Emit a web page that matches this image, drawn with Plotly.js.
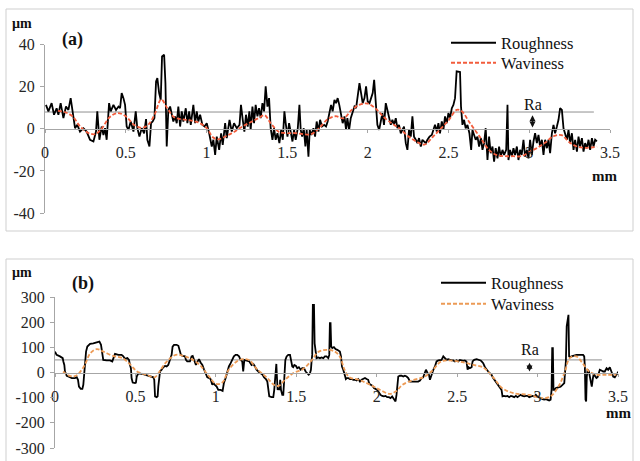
<!DOCTYPE html>
<html>
<head>
<meta charset="utf-8">
<script src="https://cdn.plot.ly/plotly-3.0.1.min.js"></script>
<style>html,body{margin:0;padding:0;background:#fff}#chart{width:640px;height:461px}</style>
</head>
<body>
<div id="chart"></div>
<script>
// ---------- Panel (a) data ----------
const aRoughX = [0.006,0.021,0.041,0.056,0.072,0.083,0.097,0.114,0.130,0.145,0.159,0.169,0.186,0.200,0.217,0.238,0.258,0.279,0.300,0.316,0.324,0.337,0.351,0.362,0.372,0.382,0.397,0.407,0.424,0.440,0.455,0.465,0.475,0.486,0.496,0.506,0.517,0.531,0.548,0.562,0.572,0.585,0.599,0.614,0.626,0.634,0.647,0.657,0.667,0.678,0.688,0.696,0.707,0.717,0.725,0.738,0.746,0.754,0.764,0.775,0.785,0.795,0.806,0.816,0.826,0.837,0.847,0.857,0.872,0.882,0.893,0.903,0.919,0.930,0.940,0.950,0.961,0.975,0.988,1.002,1.017,1.033,1.043,1.054,1.064,1.079,1.091,1.101,1.116,1.126,1.143,1.157,1.171,1.188,1.205,
1.214,1.225,1.235,1.245,1.256,1.266,1.274,1.285,1.295,1.305,1.316,1.326,1.336,1.347,1.357,1.367,1.378,1.388,1.398,1.409,1.419,1.429,1.440,1.452,1.463,1.473,1.483,1.491,1.502,1.512,1.522,1.533,1.543,1.553,1.566,1.576,1.584,1.593,1.603,1.613,1.621,1.632,1.640,1.650,1.663,1.673,1.683,1.694,1.704,1.716,1.729,1.741,1.751,1.762,1.772,1.782,1.793,1.803,1.813,1.823,1.834,1.844,1.855,1.865,1.873,1.884,1.894,1.906,1.917,1.927,1.937,1.948,1.958,1.968,1.979,1.989,1.999,2.010,2.020,2.030,2.039,2.049,2.059,2.070,2.080,2.090,2.100,2.111,2.121,2.131,2.142,2.152,2.162,2.173,2.183,2.193,2.204,2.214,2.224,2.235,2.245,2.255,2.266,2.276,2.286,2.297,2.307,2.317,2.328,2.338,2.348,2.359,2.369,2.382,
2.396,2.406,2.416,2.427,2.437,2.447,2.458,2.468,2.478,2.489,2.499,2.509,2.520,2.530,2.540,2.550,2.561,2.571,2.577,2.586,2.596,2.606,2.617,2.629,2.640,2.648,2.658,2.668,2.679,2.689,2.700,2.710,2.720,2.730,2.741,2.751,2.761,2.772,2.782,2.792,2.803,2.813,2.823,2.834,2.844,2.857,2.865,2.871,2.881,2.892,2.902,2.912,2.923,2.933,2.943,2.953,2.964,2.974,2.985,2.995,3.005,3.016,3.026,3.036,3.047,3.057,3.067,3.078,3.088,3.098,3.109,3.119,3.129,3.140,3.150,3.160,3.171,3.181,3.191,3.202,3.212,3.222,3.233,3.243,3.253,3.264,3.274,3.284,3.295,3.305,3.315,3.326,3.336,3.346,3.357,3.367,3.377,3.388,3.398,3.408,3.419];
const aRoughY = [11.4,8.3,12.2,6.7,9.8,6.7,12.2,5.1,10.6,9.0,14.6,9.0,0.3,1.9,-1.3,0.3,-1.3,-5.2,-6.0,-1.3,8.3,-5.2,1.1,-2.9,0.3,-5.2,12.2,8.3,11.4,9.0,10.6,9.8,17.0,14.6,11.4,1.1,-0.5,3.5,-1.3,8.3,0.3,-3.7,0.3,-2.1,4.6,-5.2,-8.4,2.7,3.5,5.1,22.5,24.1,17.0,13.8,34.4,35.2,21.7,-8.4,9.0,10.6,7.5,3.5,5.9,2.7,10.6,1.1,8.3,3.5,9.8,2.7,8.3,1.9,11.4,2.7,8.3,3.5,6.7,1.9,1.1,2.7,-2.1,-8.4,-5.2,-12.4,-3.7,-10.0,-2.1,-7.6,2.7,-4.4,4.3,-1.3,2.7,0.3,1.9,
11.4,4.3,-1.3,6.7,1.1,8.3,-0.5,10.6,2.7,11.4,5.9,9.8,5.1,12.2,8.3,20.2,10.6,14.6,0.3,-5.2,0.3,-5.2,-2.1,-6.8,-0.5,-5.2,8.3,2.7,-3.7,2.7,-1.3,-6.0,-0.5,-5.2,0.3,11.4,-0.5,-3.7,0.3,-8.4,-0.5,-13.2,-0.5,-2.9,0.3,-3.7,3.5,-1.3,4.3,1.1,1.9,1.1,3.5,7.5,11.4,8.3,13.8,12.2,14.6,11.4,7.5,2.7,5.9,-0.5,5.1,-0.5,5.1,8.3,10.6,9.8,17.0,21.7,17.0,12.2,14.6,20.2,13.0,12.2,14.6,17.0,23.3,10.6,1.9,-0.5,4.3,7.5,1.9,12.2,9.0,5.1,1.9,4.3,1.9,5.1,0.3,1.9,-2.1,-0.5,1.1,-6.8,-10.0,-0.5,-3.7,5.9,-3.7,-5.2,-6.8,-4.4,-8.4,-5.2,-6.0,-6.8,-5.2,-3.7,
-2.9,-0.5,1.9,-1.3,2.7,-2.1,3.5,-0.5,5.9,2.7,7.5,5.1,9.8,11.4,14.6,27.3,27.3,27.0,10.6,1.9,4.3,0.3,1.9,-2.1,-10.0,-0.5,-2.9,-5.2,-3.7,-8.4,-4.4,-10.0,-6.8,0.3,-14.8,-3.7,-11.6,-8.4,-15.6,-9.2,-14.0,-8.4,-13.2,-10.0,-12.4,-10.0,11.4,-14.8,-10.0,-13.2,-9.2,-12.4,-8.4,-14.8,-10.0,-12.4,-5.2,-13.2,-10.0,-14.0,-5.2,-12.4,-6.0,-2.1,-6.8,-2.9,-8.4,-5.2,-12.4,-5.2,-9.2,-5.2,-11.6,-2.1,1.9,-2.1,1.1,4.3,9.8,9.0,0.3,-2.9,-5.2,-0.5,-6.8,-2.1,-10.0,-5.2,-10.8,-3.7,-8.4,-4.4,-10.8,-6.8,-9.2,-5.2,-10.0,-4.4,-8.4,-5.2,-6.0];
const aWaveX = [0.08,0.12,0.17,0.22,0.27,0.31,0.35,0.40,0.45,0.50,0.55,0.60,0.64,0.68,0.72,0.76,0.80,0.85,0.90,0.95,1.00,1.04,1.07,1.12,1.17,1.22,1.27,1.32,1.36,1.40,1.45,1.50,1.55,1.60,1.65,1.70,1.75,1.80,1.85,1.90,1.95,2.00,2.05,2.10,2.15,2.20,2.25,2.30,2.35,2.40,2.45,2.50,2.55,2.58,2.63,2.70,2.75,2.80,2.85,2.90,2.95,3.00,3.05,3.10,3.15,3.20,3.25,3.30,3.35,3.42];
const aWaveY = [8.5,8.0,6.0,1.0,-2.0,-2.5,0.0,5.5,7.5,6.0,2.0,0.5,2.0,7.0,14.0,9.5,5.5,4.5,4.0,3.0,0.5,-4.0,-5.0,-3.5,-1.5,1.0,3.0,5.0,6.5,2.5,-1.5,-2.0,-2.0,-2.5,-2.5,0.5,4.5,6.0,5.0,9.0,11.5,12.0,9.5,5.5,2.5,0.0,-3.5,-6.0,-7.5,-4.0,0.0,4.0,9.0,8.5,3.0,-4.5,-10.0,-12.5,-13.0,-13.0,-13.0,-11.0,-9.0,-6.5,-3.5,-3.0,-6.5,-8.5,-9.0,-8.5];
const raA = 8;

// ---------- Panel (b) data ----------
const bRoughX = [0.000,0.010,0.031,0.048,0.052,0.058,0.062,0.073,0.093,0.104,0.124,0.135,0.143,0.149,0.160,0.170,0.176,0.182,0.186,0.193,0.201,0.218,0.238,0.259,0.276,0.286,0.294,0.300,0.321,0.342,0.356,0.363,0.373,0.394,0.414,0.425,0.435,0.450,0.460,0.466,0.472,0.476,0.483,0.497,0.503,0.508,0.518,0.539,0.559,0.570,0.590,0.601,0.611,0.617,0.622,0.632,0.638,0.642,0.648,0.653,0.663,0.673,0.684,0.694,0.704,0.715,0.725,0.731,0.740,0.756,0.767,0.777,0.783,0.793,0.808,0.814,0.822,0.839,0.849,0.856,0.864,0.876,0.887,0.895,0.905,0.916,0.926,0.938,0.947,0.957,0.967,0.978,0.984,0.994,1.005,1.015,1.030,1.042,1.050,1.061,1.071,1.081,1.092,1.102,1.112,1.123,1.133,1.144,1.154,1.164,1.170,1.177,1.191,1.208,
1.222,1.233,1.243,1.253,1.264,1.278,1.291,1.299,1.311,1.320,1.328,1.332,1.347,1.357,1.363,1.367,1.371,1.376,1.380,1.384,1.390,1.396,1.400,1.405,1.413,1.419,1.425,1.432,1.440,1.450,1.461,1.467,1.475,1.481,1.488,1.498,1.506,1.516,1.527,1.537,1.548,1.558,1.568,1.577,1.585,1.591,1.595,1.599,1.603,1.610,1.614,1.620,1.626,1.637,1.647,1.657,1.668,1.678,1.688,1.699,1.705,1.709,1.713,1.717,1.724,1.734,1.744,1.755,1.765,1.771,1.778,1.784,1.792,1.798,1.804,1.808,1.815,1.823,1.833,1.844,1.854,1.865,1.875,1.885,1.896,1.906,1.916,1.927,1.937,1.947,1.954,1.964,1.974,1.983,1.993,2.003,2.014,2.024,2.034,2.045,2.055,2.065,2.076,2.086,2.096,2.107,2.117,2.123,2.128,2.134,2.144,2.155,2.165,2.175,2.186,2.196,2.207,2.217,2.227,2.237,2.248,2.258,2.269,2.279,2.289,2.300,2.306,2.314,2.325,2.331,2.337,2.345,2.352,2.362,2.372,2.383,2.393,
2.403,2.414,2.424,2.434,2.445,2.455,2.465,2.476,2.486,2.496,2.507,2.517,2.538,2.548,2.558,2.565,2.571,2.579,2.590,2.596,2.606,2.621,2.637,2.646,2.652,2.662,2.673,2.683,2.693,2.703,2.714,2.724,2.735,2.745,2.755,2.766,2.776,2.782,2.791,2.803,2.813,2.824,2.834,2.844,2.855,2.865,2.875,2.886,2.894,2.907,2.917,2.927,2.938,2.948,2.958,2.968,2.979,2.989,2.997,3.010,3.020,3.031,3.041,3.052,3.062,3.072,3.081,3.087,3.091,3.095,3.099,3.105,3.114,3.128,3.143,3.155,3.166,3.172,3.176,3.181,3.188,3.192,3.196,3.201,3.211,3.221,3.232,3.242,3.263,3.283,3.290,3.294,3.298,3.302,3.306,3.311,3.319,3.325,3.331,3.337,3.344,3.350,3.356,3.366,3.373,3.381,3.387,3.397,3.408,3.418,3.429,3.439,3.449,3.459,3.470,3.480,3.491,3.501,3.511];
const bRoughY = [83,70,64,57,44,30,4,-13,-19,-22,-22,-19,-29,-56,-65,-65,-49,-9,30,83,103,114,116,119,123,110,64,50,48,48,44,57,74,70,70,64,54,57,50,30,17,-22,-40,-42,-40,-16,-3,-5,-9,-13,-16,-19,-19,-29,-95,-98,-95,-56,-9,4,11,21,26,24,30,50,70,103,110,110,106,83,70,66,64,50,44,44,64,66,50,30,44,53,40,30,13,-9,-19,-22,-26,-49,-42,-49,-56,-69,-69,-73,-42,-22,4,24,37,53,64,70,70,64,50,44,4,50,48,44,
30,34,24,11,4,-3,-9,-19,-26,-36,-69,-95,-98,-98,-69,-29,-9,34,-22,-69,-62,-69,-29,-69,-89,-89,-29,50,64,70,70,50,24,21,30,26,17,21,11,17,17,4,-3,-9,-3,11,44,70,269,269,116,70,57,60,57,60,57,64,64,57,70,196,196,103,97,101,93,90,83,83,64,24,11,-9,-16,-26,-22,-22,-26,-26,-29,-29,-32,-26,-36,-29,-26,-22,-26,-29,-45,-49,-53,-62,-66,-69,-79,-89,-93,-95,-93,-98,-98,-102,-95,-108,-115,-89,-42,-16,-13,-13,-16,-13,-16,-22,-36,-36,-36,-36,-36,-36,-32,-22,-19,-3,11,0,-9,-29,-16,4,11,24,44,48,50,
50,64,57,50,53,50,48,48,44,48,44,50,46,48,44,11,21,17,21,44,50,53,50,48,44,37,21,11,4,-3,-9,-22,-32,-42,-49,-56,-69,-95,-93,-95,-93,-98,-93,-95,-98,-93,-98,-93,-89,-93,-95,-93,-93,-98,-95,-93,-95,-89,-95,-98,-102,-106,-108,-106,-108,-111,-108,-69,97,97,-69,-69,-62,-58,-56,-49,-42,11,44,183,229,229,64,61,64,66,70,70,70,70,64,24,-108,-115,-16,11,4,-19,-49,-56,-22,-3,-13,-22,-19,0,11,8,4,4,17,11,21,4,-16,-19,-9,4,11];
const bWaveX = [0.05,0.09,0.13,0.18,0.22,0.26,0.30,0.36,0.42,0.47,0.51,0.57,0.62,0.65,0.69,0.75,0.80,0.85,0.90,0.95,1.00,1.04,1.08,1.13,1.17,1.21,1.25,1.32,1.36,1.39,1.43,1.48,1.54,1.59,1.64,1.69,1.74,1.77,1.80,1.83,1.89,1.96,2.02,2.08,2.12,2.16,2.23,2.29,2.34,2.40,2.45,2.54,2.60,2.66,2.72,2.78,2.85,2.95,3.03,3.08,3.13,3.17,3.20,3.24,3.28,3.32,3.37,3.43,3.49];
const bWaveY = [4,-13,-13,24,77,93,83,66,57,30,4,-9,-19,4,40,70,66,53,30,-9,-45,-40,11,44,53,48,17,-22,-49,-53,-29,-3,13,44,83,90,83,64,11,-19,-29,-49,-69,-85,-75,-49,-29,-19,4,44,48,40,30,21,-16,-62,-82,-89,-102,-95,-56,4,57,64,37,4,-9,-9,-9];
const raB = 50;

// ---------- Axis ticks ----------
const xTickVals = [0,0.5,1,1.5,2,2.5,3,3.5];
const xTickText = ['0','0.5','1','1.5','2','2.5','3','3.5'];
const aYTickVals = [-40,-20,0,20,40];
const aYTickText = ['-40','-20','0','20','40'];
const bYTickVals = [-300,-200,-100,0,100,200,300];
const bYTickText = ['-300','-200','-100','0','100','200','300'];

const W = 640, H = 461;
const px = v => v / W;
const py = v => 1 - v / H;
const serif = 'Liberation Serif';
const axisGray = '#a6a6a6';
const tickFont = {family: serif, size: 16, color: '#262626'};
const legFont = {family: serif, size: 16.5, color: '#111'};

const traces = [
  {x: aRoughX, y: aRoughY, type: 'scatter', mode: 'lines', name: 'Roughness',
   line: {color: '#000000', width: 1.8}, xaxis: 'x', yaxis: 'y', legend: 'legend'},
  {x: aWaveX, y: aWaveY, type: 'scatter', mode: 'lines', name: 'Waviness',
   line: {color: '#f25c3c', width: 1.8, dash: '4px,2px', shape: 'spline'}, xaxis: 'x', yaxis: 'y', legend: 'legend2'},
  {x: bRoughX, y: bRoughY, type: 'scatter', mode: 'lines', name: 'Roughness',
   line: {color: '#000000', width: 1.8}, xaxis: 'x2', yaxis: 'y2', legend: 'legend3'},
  {x: bWaveX, y: bWaveY, type: 'scatter', mode: 'lines', name: 'Waviness',
   line: {color: '#ec9a55', width: 1.8, dash: '4px,2px', shape: 'spline'}, xaxis: 'x2', yaxis: 'y2', legend: 'legend4'}
];

function xAxis(domain, pos) {
  return {domain: domain, range: [0, 3.5], anchor: 'free', position: pos,
    tickvals: xTickVals, ticktext: xTickText, ticks: 'outside', ticklen: 3, tickcolor: axisGray,
    showline: true, linecolor: axisGray, linewidth: 1, showgrid: false, zeroline: false,
    tickfont: tickFont, ticklabelstandoff: 6, fixedrange: true};
}
function yAxis(domain, range, vals, text, anchorX) {
  return {domain: domain, range: range, anchor: anchorX, tickvals: vals, ticktext: text,
    ticks: 'outside', ticklen: 4, tickcolor: axisGray, showline: true, linecolor: axisGray, linewidth: 1,
    showgrid: false, zeroline: false, tickfont: tickFont, ticklabelstandoff: 2, fixedrange: true};
}
function leg(x, y) {
  return {x: px(x), y: py(y), xanchor: 'left', yanchor: 'middle', bgcolor: 'rgba(0,0,0,0)',
    font: legFont, itemwidth: 45, borderwidth: 0};
}
function label(x, y, text, size) {
  return {xref: 'paper', yref: 'paper', x: px(x), y: py(y), xanchor: 'center', yanchor: 'middle',
    text: text, showarrow: false, font: {family: serif, size: size, color: '#111'}};
}

const layout = {
  width: W, height: H,
  margin: {l: 0, r: 0, t: 0, b: 0},
  paper_bgcolor: '#ffffff', plot_bgcolor: 'rgba(0,0,0,0)',
  showlegend: true,
  xaxis: xAxis([px(45), px(610)], py(129)),
  yaxis: yAxis([py(213), py(44.7)], [-40, 40], aYTickVals, aYTickText, 'x'),
  xaxis2: xAxis([px(55), px(618)], py(373)),
  yaxis2: yAxis([py(448), py(297)], [-300, 300], bYTickVals, bYTickText, 'x2'),
  legend: leg(446, 43),
  legend2: leg(446, 63),
  legend3: leg(436, 283),
  legend4: leg(436, 304),
  shapes: [
    {type: 'rect', xref: 'paper', yref: 'paper', x0: px(6), x1: px(633), y0: py(231), y1: py(9),
     line: {color: '#cfcfcf', width: 1}, layer: 'below'},
    {type: 'rect', xref: 'paper', yref: 'paper', x0: px(6), x1: px(633), y0: py(470), y1: py(259),
     line: {color: '#cfcfcf', width: 1}, layer: 'below'},
    {type: 'line', xref: 'x', yref: 'y', x0: 0, x1: 3.4, y0: raA, y1: raA,
     line: {color: '#8f8f8f', width: 1}, layer: 'below'},
    {type: 'line', xref: 'x2', yref: 'y2', x0: 0, x1: 3.4, y0: raB, y1: raB,
     line: {color: '#8f8f8f', width: 1}, layer: 'below'}
  ],
  annotations: [
    label(22, 24, '<b>µm</b>', 14),
    label(72, 39, '<b>(a)</b>', 18),
    label(604, 176, '<b>mm</b>', 15),
    label(22, 272, '<b>µm</b>', 14),
    label(83, 283, '<b>(b)</b>', 18),
    label(618, 413, '<b>mm</b>', 15),
    {xref: 'x', yref: 'y', x: 3.02, y: 11.8, xanchor: 'center', yanchor: 'middle', text: 'Ra', showarrow: false,
     font: {family: serif, size: 16, color: '#111'}},
    {xref: 'x', yref: 'y', x: 3.02, y: 0.6, ax: 3.02, ay: raA - 0.8, axref: 'x', ayref: 'y', text: '',
     showarrow: true, arrowside: 'end+start', arrowhead: 2, startarrowhead: 2, arrowsize: 1,
     startarrowsize: 1, arrowwidth: 1.2, arrowcolor: '#111'},
    {xref: 'x2', yref: 'y2', x: 2.95, y: 92, xanchor: 'center', yanchor: 'middle', text: 'Ra', showarrow: false,
     font: {family: serif, size: 16, color: '#111'}},
    {xref: 'x2', yref: 'y2', x: 2.95, y: 4, ax: 2.95, ay: raB - 5, axref: 'x2', ayref: 'y2', text: '',
     showarrow: true, arrowside: 'end+start', arrowhead: 2, startarrowhead: 2, arrowsize: 1,
     startarrowsize: 1, arrowwidth: 1.2, arrowcolor: '#111'}
  ]
};

Plotly.newPlot('chart', traces, layout, {staticPlot: true, displayModeBar: false});
</script>
</body>
</html>
